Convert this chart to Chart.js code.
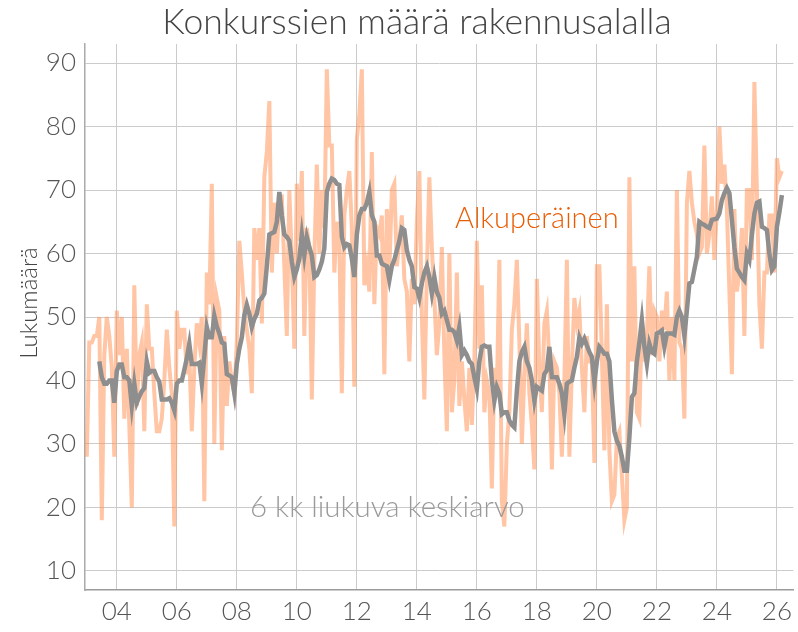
<!DOCTYPE html>
<html>
<head>
<meta charset="utf-8">
<script src="https://cdn.jsdelivr.net/npm/chart.js@4/dist/chart.umd.min.js"></script>
<style>
  html, body { margin: 0; padding: 0; background: #fff; }
  #wrap { width: 798px; height: 632px; }
</style>
</head>
<body>
<div id="wrap"><canvas id="myChart" width="798" height="632"></canvas></div>
<script>
// monthly series, first value = Jan 2003
const startYear = 2003;
const original = [
    28, 46, 46, 47, 47, 50, 18, 44, 50, 47, 42, 28,   // 2003
    51, 44, 50, 34, 45, 33, 20, 55, 36, 44, 46, 32,   // 2004
    52, 45, 45, 38, 32, 32, 34, 40, 48, 42, 38, 17,   // 2005
    51, 45, 48, 48, 41, 44, 32, 42, 49, 46, 50, 21,   // 2006
    57, 52, 71, 30, 53, 51, 29, 47, 36, 43, 40, 38,   // 2007
    46, 62, 57, 51, 48, 45, 38, 64, 59, 64, 49, 72,   // 2008
    76, 84, 57, 68, 60, 69, 69, 58, 47, 70, 59, 45,   // 2009
    71, 62, 73, 47, 64, 61, 37, 59, 74, 60, 70, 64,   // 2010
    89, 77, 77, 57, 65, 62, 38, 66, 70, 73, 64, 39,   // 2011
    78, 82, 89, 55, 58, 54, 76, 52, 64, 63, 66, 41,   // 2012
    67, 57, 70, 71, 58, 62, 66, 56, 54, 43, 56, 52,   // 2013
    65, 73, 50, 37, 57, 72, 61, 53, 44, 49, 61, 44,   // 2014
    32, 60, 35, 40, 57, 36, 43, 37, 32, 42, 33, 43,   // 2015
    62, 45, 55, 35, 40, 38, 23, 42, 38, 59, 21, 17,   // 2016
    30, 35, 48, 52, 59, 46, 30, 41, 49, 38, 33, 26,   // 2017
    56, 42, 35, 49, 51, 43, 26, 43, 42, 38, 28, 40,   // 2018
    59, 28, 42, 53, 49, 51, 42, 35, 47, 43, 43, 27,   // 2019
    58, 58, 44, 29, 52, 29, 21, 22, 31, 32, 25, 18,   // 2020
    20, 72, 43, 58, 35, 34, 50, 43, 47, 58, 44, 51,   // 2021
    50, 43, 51, 48, 54, 40, 50, 40, 70, 46, 45, 34,   // 2022
    68, 73, 68, 65, 63, 60, 61, 77, 60, 63, 69, 59,   // 2023
    67, 80, 71, 74, 67, 54, 41, 67, 54, 57, 64, 47,   // 2024
    70, 70, 59, 87, 70, 52, 45, 57, 57, 66, 66, 57,   // 2025
    75, 72, 73                                        // 2026
];
const movingAvg = [
    null, null, null, null, null, 43, 40.5, 39.5, 39.5, 40, 40, 36.5,
    41.5, 42.5, 42.5, 40.5, 40.5, 40, 36, 39.5, 36.5, 37.5, 38.3, 38.8,
    43, 41.2, 41.5, 41.5, 40.5, 39.8, 37, 37, 37, 37.2, 36.5, 35.3,
    39.5, 40, 40, 41.7, 43.5, 45.8, 42.6, 42.6, 42.6, 42.8, 39.5, 43.8,
    48.4, 46.8, 46.8, 50.2, 48.5, 47.4, 46, 45.8, 41, 40.8, 40.5, 38,
    42.6, 45, 46.8, 50.3, 51.9, 50.5, 48.4, 49.7, 50.5, 52.6, 53, 53.7,
    58, 63, 63.2, 63.4, 65, 69.7, 66, 63, 62.6, 62, 58.7, 56.3,
    57.5, 59.2, 63, 59.7, 62.6, 61, 59.7, 56.3, 56.6, 57.5, 58.7, 60.8,
    69.7, 71, 71.8, 71.6, 71, 70.8, 62.6, 61, 61.5, 61.3, 59.2, 56.3,
    63, 66, 67, 67, 68, 69.7, 66, 65, 59.7, 59.7, 58.4, 58.2,
    58, 55.8, 58, 59, 60.5, 62, 64, 63.7, 60.5, 59, 58, 54.7,
    54.5, 53, 55.3, 57, 58, 56.3, 53.7, 56.3, 54, 53, 50.5, 51,
    49.5, 48, 48, 47.6, 46.3, 48.4, 44, 44.7, 44, 43, 42.6, 40.5,
    38.7, 43, 45.3, 45.5, 45.3, 45.3, 40, 36.8, 39, 38, 34.7, 35,
    35, 33.7, 33, 32.6, 38.4, 43, 44.5, 45.3, 43, 42, 40, 36.8,
    39, 38.7, 38.4, 41, 41.6, 45.3, 40.5, 40.5, 40.5, 39.5, 38, 34.7,
    39.5, 39.8, 40, 42, 43.7, 46.8, 45.8, 46.6, 45.5, 44.5, 43.7, 39.7,
    43, 45.3, 44.8, 44.2, 44.2, 43, 37, 32, 30.5, 29.7, 28, 25.8,
    25.8, 31, 37.4, 38, 43, 46, 49.5, 45.3, 42.6, 45.8, 44.5, 44.2,
    47.4, 47.6, 47.9, 45.3, 47.4, 47.4, 47.4, 47.2, 50, 51, 50, 47,
    51, 55.3, 55.5, 57.5, 59.5, 65, 64.7, 64.5, 64.2, 64, 65.3, 65.4,
    65.5, 66.3, 68.4, 69.5, 70.3, 69.5, 65.3, 61, 57.6, 57, 56.3, 55.8,
    60, 59, 63, 66.3, 68, 68.2, 64.2, 64, 63.7, 60, 57.4, 58,
    64.2, 66.5, 69.2
];
const xTickYears = [2004, 2006, 2008, 2010, 2012, 2014, 2016, 2018, 2020, 2022, 2024, 2026];
const yTicks = [10, 20, 30, 40, 50, 60, 70, 80, 90];

function toPoints(arr) {
    return arr.map((v, i) => ({ x: startYear + i / 12, y: v }));
}

const FONT = 'Lato, "Noto Sans", sans-serif';

// title, axis title and in-chart labels
const textPlugin = {
    id: 'texts',
    afterDraw(chart) {
        const ctx = chart.ctx;
        ctx.save();
        ctx.fillStyle = '#444';
        ctx.font = '300 35.5px ' + FONT;
        ctx.textAlign = 'center';
        ctx.textBaseline = 'alphabetic';
        ctx.fillText('Konkurssien määrä rakennusalalla', 417, 34);

        ctx.save();
        ctx.translate(37, 303);
        ctx.rotate(-Math.PI / 2);
        ctx.font = '300 24px ' + FONT;
        ctx.fillStyle = '#444';
        ctx.fillText('Lukumäärä', 0, 0);
        ctx.restore();

        ctx.textAlign = 'left';
        ctx.font = '300 29px ' + FONT;
        ctx.fillStyle = '#e85d04';
        ctx.fillText('Alkuperäinen', 455, 228);
        ctx.font = '300 29.5px ' + FONT;
        ctx.fillStyle = '#9a9a9a';
        ctx.fillText('6 kk liukuva keskiarvo', 250, 517);
        ctx.restore();
    }
};

const ctx = document.getElementById('myChart').getContext('2d');
const myChart = new Chart(ctx, {
    type: 'line',
    data: {
        datasets: [{
            label: 'Alkuperäinen',
            data: toPoints(original),
            borderColor: 'rgba(255, 150, 90, 0.55)',
            borderWidth: 4,
            pointRadius: 0,
            tension: 0,
            fill: false,
            order: 2
        }, {
            label: '6 kk liukuva keskiarvo',
            data: toPoints(movingAvg),
            borderColor: '#8e8e8e',
            borderWidth: 4.5,
            pointRadius: 0,
            tension: 0,
            fill: false,
            spanGaps: false,
            order: 1
        }]
    },
    options: {
        responsive: false,
        animation: false,
        layout: { padding: { top: 44, right: 1, left: 0, bottom: 0 } },
        plugins: {
            legend: { display: false },
            tooltip: { enabled: false },
            title: { display: false }
        },
        scales: {
            x: {
                type: 'linear',
                min: 2002.94,
                max: 2026.55,
                afterFit: scale => { scale.height = 42; },
                afterBuildTicks: scale => {
                    scale.ticks = xTickYears.map(v => ({ value: v }));
                },
                ticks: {
                    autoSkip: false,
                    maxRotation: 0,
                    padding: 6,
                    color: '#555',
                    font: { family: FONT, size: 26, weight: 300 },
                    callback: v => String(v).slice(2)
                },
                grid: { color: '#cbcbcb', lineWidth: 1, drawTicks: false },
                border: { display: true, color: '#9a9a9a', width: 1.5 }
            },
            y: {
                min: 7,
                max: 93,
                afterFit: scale => { scale.width = 85; },
                afterBuildTicks: scale => {
                    scale.ticks = yTicks.map(v => ({ value: v }));
                },
                ticks: {
                    padding: 9,
                    color: '#555',
                    font: { family: FONT, size: 26, weight: 300 }
                },
                grid: { color: '#cbcbcb', lineWidth: 1, drawTicks: false },
                border: { display: true, color: '#aaaaaa', width: 1.5 }
            }
        }
    },
    plugins: [textPlugin]
});
</script>
</body>
</html>
